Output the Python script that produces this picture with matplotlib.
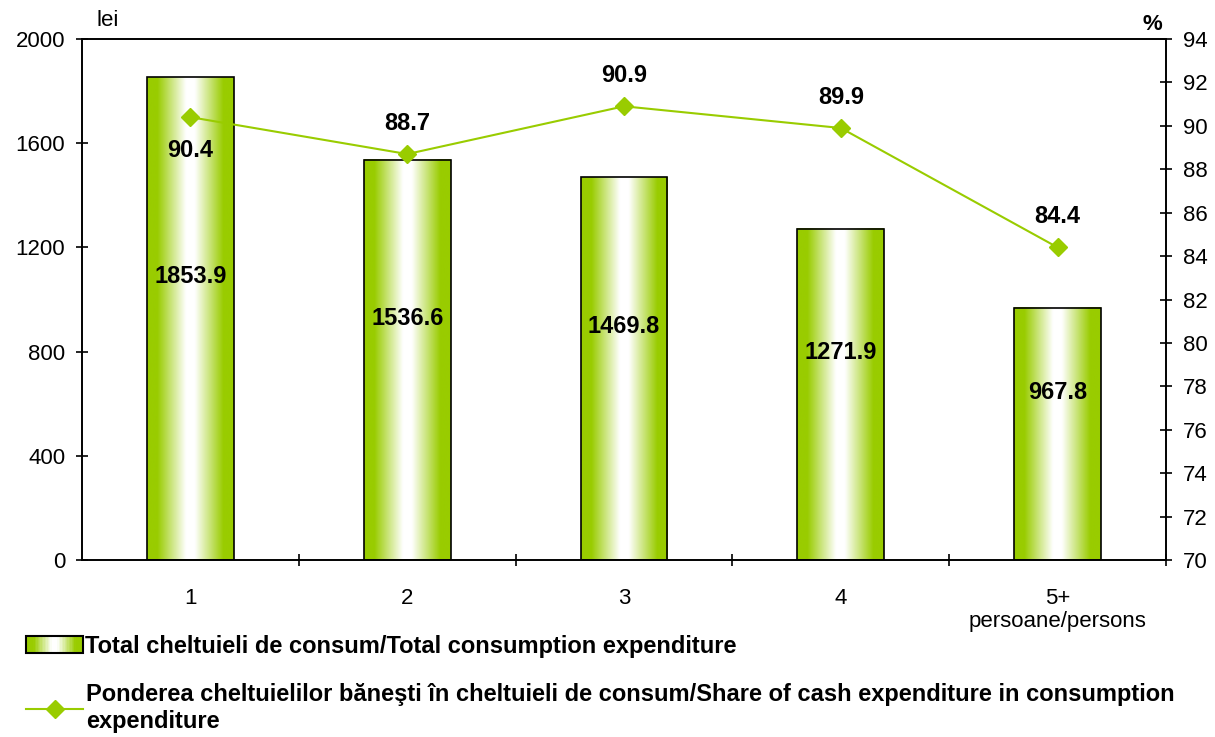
import matplotlib.pyplot as plt
import numpy as np
from matplotlib.patches import Rectangle
from matplotlib.colors import LinearSegmentedColormap
from matplotlib.lines import Line2D
from matplotlib.legend_handler import HandlerBase

plt.rcParams['font.family'] = ['Liberation Sans', 'DejaVu Sans']

categories = ['1', '2', '3', '4', '5+\npersoane/persons']
expenditure = [1853.9, 1536.6, 1469.8, 1271.9, 967.8]
cash_share = [90.4, 88.7, 90.9, 89.9, 84.4]
share_label_below = [True, False, False, False, False]

green = '#99CC00'
cmap = LinearSegmentedColormap.from_list(
    'g', [(0, green), (0.12, green), (0.45, '#ffffff'), (0.55, '#ffffff'), (0.88, green), (1, green)])
grad = np.linspace(0, 1, 256).reshape(1, -1)

fig = plt.figure(figsize=(12.15, 7.37), dpi=100)
ax = fig.add_axes([82/1215, 1 - 560/737, 1084/1215, 521/737])
ax2 = ax.twinx()

x = np.arange(len(categories))
w = 0.4
bars = ax.bar(x, expenditure, width=w, facecolor='none', edgecolor='black', lw=1.2, zorder=3)
for b in bars:
    ax.imshow(grad, cmap=cmap, aspect='auto', zorder=2,
              extent=[b.get_x(), b.get_x() + b.get_width(), 0, b.get_height()])
for xi, v in zip(x, expenditure):
    ax.text(xi, v / 2 + 160, f'{v:.1f}', ha='center', va='center',
            fontsize=17, fontweight='bold', zorder=5)

ax.set_xlim(-0.5, 4.5)
ax.set_ylim(0, 2000)
ax.set_yticks(range(0, 2001, 400))
ax.set_xticks(x)
ax.set_xticklabels(categories, fontsize=16, linespacing=1.15)
ax.tick_params(axis='x', length=0, pad=20)
ax.set_xticks(np.arange(0.5, 4.6, 1), minor=True)
ax.tick_params(axis='x', which='minor', length=8, direction='inout', width=1.2)
ax.tick_params(axis='y', labelsize=16, direction='inout', length=8, width=1.2, pad=8)
for s in ax.spines.values():
    s.set_linewidth(1.2)

ax2.plot(x, cash_share, color=green, lw=1.5, marker='D', markersize=9, zorder=4)
for xi, v, below in zip(x, cash_share, share_label_below):
    ax2.annotate(f'{v:.1f}', (xi, v), xytext=(0, -24 if below else 22),
                 textcoords='offset points', ha='center', va='center',
                 fontsize=17, fontweight='bold')
ax2.set_ylim(70, 94)
ax2.set_yticks(range(70, 95, 2))
ax2.tick_params(axis='y', labelsize=16, direction='inout', length=8, width=1.2, pad=8)
for s in ax2.spines.values():
    s.set_linewidth(1.2)

fig.text(96/1215, 1 - 20/737, 'lei', fontsize=16, va='center')
fig.text(1152/1215, 1 - 24/737, '%', fontsize=16, fontweight='bold', va='center', ha='center')


class GradHandler(HandlerBase):
    def create_artists(self, legend, orig, xd, yd, width, height, fontsize, trans):
        arts = []
        n = 40
        for i in range(n):
            c = cmap(i / (n - 1))
            arts.append(Rectangle((xd + width * i / n, yd), width / n + 0.3, height,
                                  facecolor=c, edgecolor='none', transform=trans))
        arts.append(Rectangle((xd, yd), width, height, facecolor='none',
                              edgecolor='black', lw=1.5, transform=trans))
        return arts


bar_handle = Rectangle((0, 0), 1, 1)
line_handle = Line2D([], [], color=green, lw=1.5, marker='D', markersize=9)
fig.legend([bar_handle], ['Total cheltuieli de consum/Total consumption expenditure'],
           handler_map={Rectangle: GradHandler()}, loc='center left',
           bbox_to_anchor=(5/1215, 1 - 646/737), frameon=False,
           prop={'size': 17, 'weight': 'bold'}, handlelength=2.4, handletextpad=0.1)
fig.legend([line_handle],
           ['Ponderea cheltuielilor băneşti în cheltuieli de consum/Share of cash expenditure in consumption\nexpenditure'],
           loc='center left', bbox_to_anchor=(5/1215, 1 - 708/737), frameon=False,
           prop={'size': 17, 'weight': 'bold'}, handlelength=2.4, handletextpad=0.15)

fig.savefig('out.png', dpi=100)
